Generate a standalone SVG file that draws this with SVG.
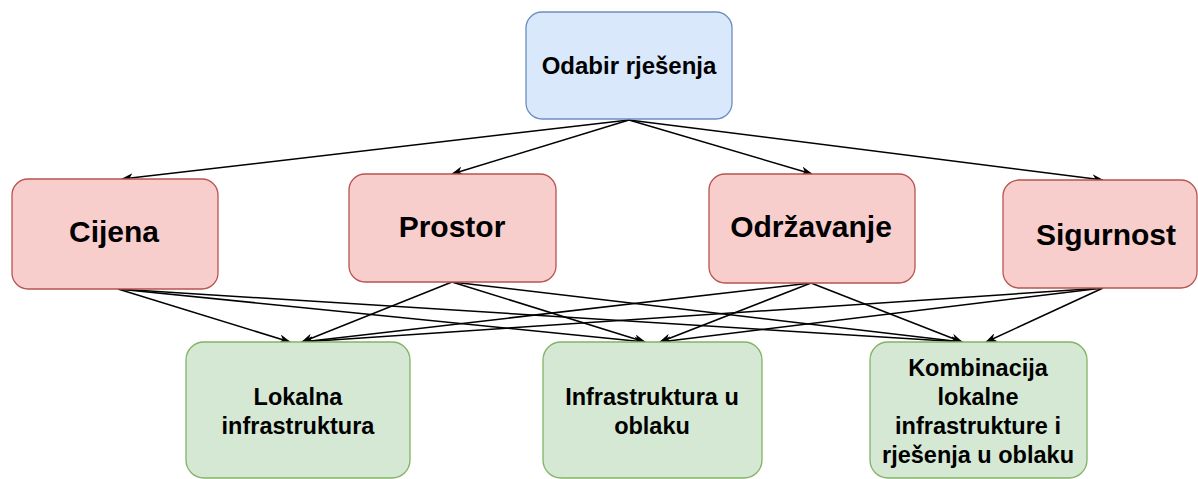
<svg xmlns="http://www.w3.org/2000/svg" width="1198" height="479" viewBox="0 0 1198 479">
<style>
.top{fill:#dae8fc;stroke:#6c8ebf;stroke-width:1.3}
.mid{fill:#f8cecc;stroke:#b85450;stroke-width:1.3}
.bot{fill:#d5e8d4;stroke:#82b366;stroke-width:1.3}
text{font-family:"Liberation Sans",Arial,sans-serif;font-weight:bold;fill:#000;text-anchor:middle}
.t1{font-size:24px}
.t2{font-size:30px}
.t3{font-size:23.5px}
.e{stroke:#000;stroke-width:1.5;fill:none;marker-end:url(#arr)}
</style>
<defs>
<marker id="arr" viewBox="0 0 12 9" refX="11" refY="4.5" markerWidth="12" markerHeight="9" markerUnits="userSpaceOnUse" orient="auto">
<path d="M0,0 L12,4.5 L0,9 L3.5,4.5 z" fill="#000"/>
</marker>
</defs>
<rect width="1198" height="479" fill="#fff"/>
<g id="edges">
<line class="e" x1="629" y1="120" x2="122" y2="179"/>
<line class="e" x1="629" y1="120" x2="452" y2="174"/>
<line class="e" x1="629" y1="120" x2="812" y2="174"/>
<line class="e" x1="629" y1="120" x2="1103" y2="180"/>
<line class="e" x1="118" y1="289" x2="290" y2="342"/>
<line class="e" x1="118" y1="289" x2="645" y2="342"/>
<line class="e" x1="118" y1="289" x2="962" y2="342"/>
<line class="e" x1="452" y1="282" x2="302" y2="342"/>
<line class="e" x1="452" y1="282" x2="645" y2="342"/>
<line class="e" x1="452" y1="282" x2="962" y2="342"/>
<line class="e" x1="811" y1="283" x2="302" y2="342"/>
<line class="e" x1="811" y1="283" x2="660" y2="342"/>
<line class="e" x1="811" y1="283" x2="962" y2="342"/>
<line class="e" x1="1103" y1="288" x2="302" y2="342"/>
<line class="e" x1="1103" y1="288" x2="660" y2="342"/>
<line class="e" x1="1103" y1="288" x2="986" y2="342"/>
</g>
<g id="odabir">
<rect class="top" x="526" y="12" width="206" height="107" rx="16"/>
<text class="t1" x="629" y="74">Odabir rješenja</text>
</g>
<g id="cijena">
<rect class="mid" x="12" y="179" width="206" height="110" rx="16"/>
<text class="t2" x="114" y="242">Cijena</text>
</g>
<g id="prostor">
<rect class="mid" x="349" y="174" width="207" height="108" rx="16"/>
<text class="t2" x="452" y="237">Prostor</text>
</g>
<g id="odrzavanje">
<rect class="mid" x="709" y="174" width="206" height="109" rx="16"/>
<text class="t2" x="811" y="237">Održavanje</text>
</g>
<g id="sigurnost">
<rect class="mid" x="1003" y="180" width="194" height="108" rx="16"/>
<text class="t2" x="1106" y="245">Sigurnost</text>
</g>
<g id="lokalna">
<rect class="bot" x="186" y="342" width="224" height="136" rx="18"/>
<text class="t3" x="298" y="405">Lokalna</text>
<text class="t3" x="298" y="434">infrastruktura</text>
</g>
<g id="oblak">
<rect class="bot" x="543" y="342" width="219" height="136" rx="18"/>
<text class="t3" x="652" y="405">Infrastruktura u</text>
<text class="t3" x="652" y="434">oblaku</text>
</g>
<g id="kombinacija">
<rect class="bot" x="870" y="342" width="217" height="136" rx="18"/>
<text class="t3" x="978" y="376">Kombinacija</text>
<text class="t3" x="978" y="405">lokalne</text>
<text class="t3" x="978" y="434">infrastrukture i</text>
<text class="t3" x="978" y="463">rješenja u oblaku</text>
</g>
</svg>
